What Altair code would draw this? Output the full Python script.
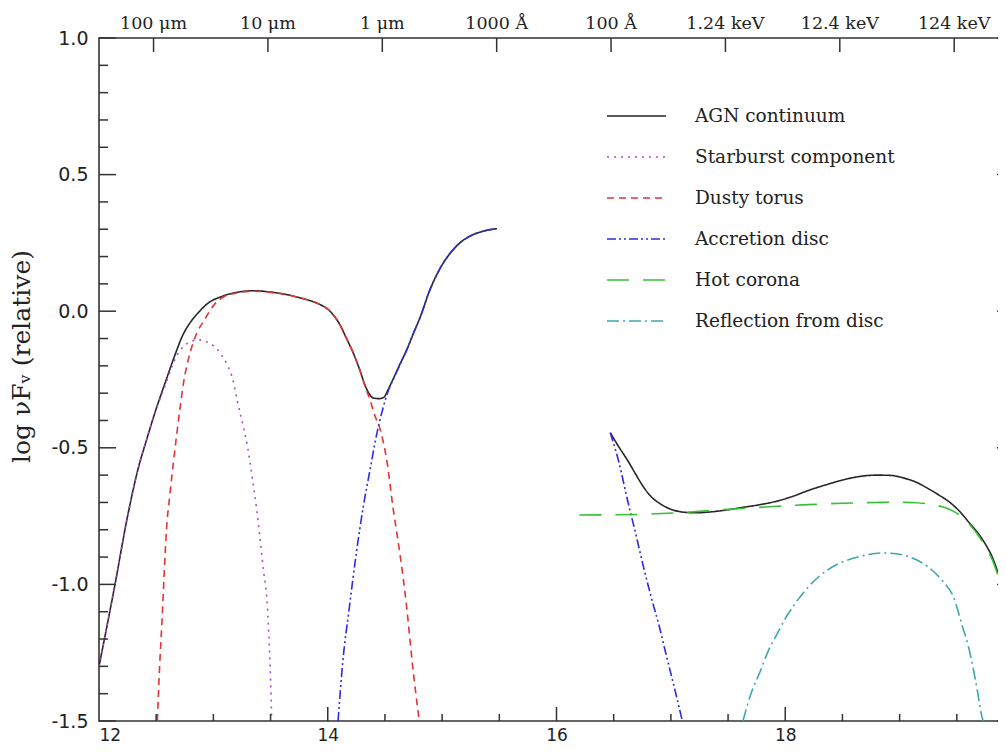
import altair as alt
import pandas as pd

# ---------------- series definitions ----------------
series_names = ["AGN continuum", "Starburst component", "Dusty torus",
                "Accretion disc", "Hot corona", "Reflection from disc"]
series_colors = ["#262626", "#b048c8", "#e23434", "#2c2ce4", "#34c034", "#3ea8a8"]
series_dashes = [[1, 0], [2, 5], [7, 5], [9, 3, 2, 3, 2, 3], [22, 14], [12, 4, 2, 4]]

# AGN continuum, IR-UV part
agn_ir_x = [12.00, 12.14, 12.25, 12.34, 12.42, 12.49, 12.58, 12.66, 12.73, 12.80, 12.88,
            12.94, 13.08, 13.22, 13.35, 13.50, 13.65, 13.73, 13.85, 13.93, 14.02, 14.10,
            14.17, 14.22, 14.28, 14.33, 14.37, 14.40, 14.45, 14.49, 14.53, 14.57, 14.63,
            14.69, 14.75, 14.81, 14.89, 14.98, 15.09, 15.17, 15.24, 15.32, 15.39, 15.48]
agn_ir_y = [-1.30, -1.00, -0.75, -0.58, -0.465, -0.37, -0.26, -0.165, -0.09, -0.04, 0.00,
            0.025, 0.055, 0.070, 0.075, 0.070, 0.060, 0.052, 0.038, 0.025, 0.000, -0.045,
            -0.105, -0.150, -0.215, -0.275, -0.307, -0.318, -0.320, -0.315, -0.285, -0.250, -0.195,
            -0.142, -0.080, -0.020, 0.075, 0.155, 0.222, 0.255, 0.274, 0.288, 0.296, 0.302]

# AGN continuum, X-ray part
agn_xr_x = [16.47, 16.55, 16.62, 16.69, 16.76, 16.83, 16.90, 17.00, 17.10, 17.22, 17.34,
            17.48, 17.63, 17.78, 17.93, 18.07, 18.21, 18.36, 18.50, 18.65, 18.80, 18.92,
            19.03, 19.14, 19.24, 19.34, 19.44, 19.53, 19.61, 19.69, 19.76, 19.81, 19.85,
            19.90, 19.95, 20.00]
agn_xr_y = [-0.445, -0.500, -0.545, -0.595, -0.643, -0.680, -0.703, -0.725, -0.735, -0.738, -0.735,
            -0.728, -0.718, -0.708, -0.695, -0.677, -0.655, -0.635, -0.618, -0.605, -0.600, -0.601,
            -0.610, -0.625, -0.647, -0.672, -0.700, -0.735, -0.775, -0.815, -0.860, -0.900, -0.945,
            -1.010, -1.090, -1.170]

# Starburst component
starburst_x = [12.00, 12.14, 12.25, 12.34, 12.42, 12.49, 12.58, 12.64, 12.69, 12.75, 12.81,
               12.87, 12.93, 13.01, 13.07, 13.13, 13.17, 13.21, 13.26, 13.30, 13.34, 13.38,
               13.43, 13.48, 13.50, 13.51]
starburst_y = [-1.30, -1.00, -0.75, -0.58, -0.465, -0.37, -0.27, -0.20, -0.155, -0.125, -0.11,
               -0.105, -0.11, -0.13, -0.16, -0.204, -0.25, -0.33, -0.42, -0.50, -0.61, -0.73,
               -0.92, -1.14, -1.35, -1.50]

# Dusty torus
torus_x = [12.51, 12.53, 12.55, 12.57, 12.59, 12.62, 12.65, 12.68, 12.71, 12.74, 12.78,
           12.82, 12.86, 12.91, 13.01, 13.08, 13.22, 13.35, 13.50, 13.65, 13.73, 13.85,
           13.93, 14.02, 14.10, 14.17, 14.22, 14.28, 14.33, 14.37, 14.41, 14.46, 14.52,
           14.57, 14.63, 14.69, 14.74, 14.80]
torus_y = [-1.50, -1.30, -1.14, -0.96, -0.80, -0.67, -0.556, -0.45, -0.35, -0.26, -0.178,
           -0.12, -0.075, -0.040, 0.025, 0.050, 0.068, 0.073, 0.069, 0.060, 0.052, 0.038,
           0.025, 0.000, -0.045, -0.105, -0.150, -0.215, -0.280, -0.325, -0.380, -0.435, -0.556,
           -0.717, -0.885, -1.083, -1.290, -1.500]

# Accretion disc, optical-UV part
disc_uv_x = [14.09, 14.13, 14.19, 14.25, 14.31, 14.37, 14.43, 14.48, 14.53, 14.57, 14.63,
             14.69, 14.75, 14.81, 14.89, 14.98, 15.09, 15.17, 15.24, 15.32, 15.39, 15.48]
disc_uv_y = [-1.50, -1.29, -1.08, -0.885, -0.717, -0.58, -0.446, -0.36, -0.29, -0.252, -0.197,
             -0.142, -0.080, -0.020, 0.075, 0.155, 0.222, 0.255, 0.274, 0.288, 0.296, 0.302]

# Accretion disc, soft X-ray part
disc_xr_x = [16.47, 16.55, 16.62, 16.69, 16.76, 16.83, 16.90, 16.96, 17.02, 17.10]
disc_xr_y = [-0.445, -0.56, -0.69, -0.81, -0.935, -1.05, -1.156, -1.26, -1.36, -1.50]

# Hot corona
corona_x = [16.20, 16.50, 16.80, 17.10, 17.40, 17.70, 17.93, 18.20, 18.50, 18.80, 18.94,
            19.10, 19.24, 19.38, 19.46, 19.53, 19.60, 19.67, 19.74, 19.81, 19.87, 19.93, 20.00]
corona_y = [-0.746, -0.745, -0.743, -0.737, -0.728, -0.720, -0.714, -0.708, -0.703, -0.700, -0.699,
            -0.700, -0.705, -0.717, -0.730, -0.748, -0.775, -0.810, -0.855, -0.910, -0.980, -1.060, -1.170]

# Reflection from disc
reflection_x = [17.63, 17.70, 17.78, 17.85, 17.93, 18.00, 18.07, 18.20, 18.36, 18.50, 18.65,
                18.85, 18.97, 19.09, 19.20, 19.29, 19.38, 19.47, 19.55, 19.60, 19.64, 19.68,
                19.72, 19.73]
reflection_y = [-1.50, -1.40, -1.32, -1.245, -1.18, -1.125, -1.08, -1.01, -0.95, -0.918, -0.898,
                -0.885, -0.888, -0.90, -0.922, -0.95, -0.99, -1.045, -1.155, -1.225, -1.30, -1.39,
                -1.485, -1.50]

# ---------------- axis tick definitions ----------------
y_major_ticks = [-1.5, -1.0, -0.5, 0.0, 0.5, 1.0]
y_minor_ticks = [-1.4, -1.3, -1.2, -1.1, -0.9, -0.8, -0.7, -0.6, -0.4, -0.3, -0.2, -0.1,
                 0.1, 0.2, 0.3, 0.4, 0.6, 0.7, 0.8, 0.9]
x_label_ticks = [12, 14, 16, 18]
x_major_ticks = [14, 16, 18]
x_minor_ticks = [12.5, 13, 13.5, 14.5, 15, 15.5, 16.5, 17, 17.5, 18.5, 19, 19.5]
top_tick_x = [12.477, 13.477, 14.477, 15.477, 16.477, 17.477, 18.477, 19.477]
top_tick_labels = ["100 \u03bcm", "10 \u03bcm", "1 \u03bcm", "1000 \u00c5", "100 \u00c5",
                   "1.24 keV", "12.4 keV", "124 keV"]

# ---------------- build tables ----------------
rows = []
def add(name, seg, xs_, ys_):
    for a, b in zip(xs_, ys_):
        rows.append({"series": name, "seg": seg, "x": a, "y": b})

add("AGN continuum", "agn1", agn_ir_x, agn_ir_y)
add("AGN continuum", "agn2", agn_xr_x, agn_xr_y)
add("Starburst component", "sb", starburst_x, starburst_y)
add("Dusty torus", "torus", torus_x, torus_y)
add("Accretion disc", "disc1", disc_uv_x, disc_uv_y)
add("Accretion disc", "disc2", disc_xr_x, disc_xr_y)
add("Hot corona", "corona", corona_x, corona_y)
add("Reflection from disc", "refl", reflection_x, reflection_y)
df = pd.DataFrame(rows)

W, H = 915, 683
XDOM = [12, 20]
YDOM = [-1.5, 1.0]
xs = alt.Scale(domain=XDOM, nice=False, zero=False)
ys = alt.Scale(domain=YDOM, nice=False, zero=False)
color_scale = alt.Scale(domain=series_names, range=series_colors)
dash_scale = alt.Scale(domain=series_names, range=series_dashes)

x_axis = alt.Axis(values=x_label_ticks, format="d", labelFont="DejaVu Sans", labelFontSize=17,
                  labelColor="#222", labelPadding=6, ticks=False, tickSize=0, domain=False,
                  grid=False, title=None, labelBaseline="top")
y_axis = alt.Axis(values=y_major_ticks,
                  labelExpr="(datum.value < 0 ? '-' : '') + format(abs(datum.value), '.1f')",
                  labelFont="DejaVu Sans", labelFontSize=19, labelColor="#222", labelPadding=11,
                  ticks=False, tickSize=0, domain=False, grid=False,
                  title="log \u03bdF\u1d65  (relative)", titleFont="DejaVu Serif", titleFontSize=25,
                  titleFontWeight="normal", titleColor="#222", titleAngle=270,
                  titleX=-78, titleY=318, titleAlign="center", titleBaseline="middle")

X = lambda f: alt.X(f, scale=xs, axis=x_axis)
Y = lambda f: alt.Y(f, scale=ys, axis=y_axis)

def line_layer(data):
    return alt.Chart(data).mark_line(strokeWidth=1.6, clip=True, interpolate="monotone").encode(
        x=X("x:Q"), y=Y("y:Q"),
        color=alt.Color("series:N", scale=color_scale, legend=None),
        strokeDash=alt.StrokeDash("series:N", scale=dash_scale, legend=None),
        detail="seg:N",
    )

black = line_layer(df[df.series == "AGN continuum"])
others = line_layer(df[df.series != "AGN continuum"])

tick_color = "#333"
def yticks(vals, length, right=False):
    d = pd.DataFrame({"y": vals})
    if right:
        xv, x2v = alt.value(W), alt.value(W - length)
    else:
        xv, x2v = alt.value(0), alt.value(length)
    return alt.Chart(d).mark_rule(color=tick_color, strokeWidth=1.5).encode(
        y=Y("y:Q"), x=xv, x2=x2v)

def xticks_bottom(vals, length):
    d = pd.DataFrame({"x": vals})
    return alt.Chart(d).mark_rule(color=tick_color, strokeWidth=1.5).encode(
        x=X("x:Q"), y=alt.value(H), y2=alt.value(H - length))

top_df = pd.DataFrame({"x": top_tick_x, "label": top_tick_labels})
top_ticks = alt.Chart(top_df).mark_rule(color=tick_color, strokeWidth=1.5).encode(
    x=X("x:Q"), y=alt.value(0), y2=alt.value(14))
top_text = alt.Chart(top_df).mark_text(font="DejaVu Serif", fontSize=17.5, color="#222",
                                       baseline="alphabetic", align="center").encode(
    x=X("x:Q"), y=alt.value(-9), text="label:N")

# ---------------- legend (one row per series) ----------------
legend_layers = []
for i, name in enumerate(series_names):
    d = pd.DataFrame({"series": [name]})
    ypix = 78 + 41 * i
    legend_layers.append(alt.Chart(d).mark_rule(strokeWidth=1.6).encode(
        x=alt.value(508), x2=alt.value(567), y=alt.value(ypix),
        color=alt.Color("series:N", scale=color_scale, legend=None),
        strokeDash=alt.StrokeDash("series:N", scale=dash_scale, legend=None)))
    legend_layers.append(alt.Chart(d).mark_text(font="DejaVu Serif", fontSize=18.5, color="#222",
                                                align="left", baseline="middle").encode(
        x=alt.value(596), y=alt.value(ypix), text="series:N"))

chart = alt.layer(
    black, others,
    yticks(y_minor_ticks, 9), yticks(y_major_ticks, 17),
    yticks(y_minor_ticks, 9, right=True), yticks(y_major_ticks, 17, right=True),
    xticks_bottom(x_minor_ticks, 7), xticks_bottom(x_major_ticks, 14),
    top_ticks, top_text,
    *legend_layers,
).properties(
    width=W, height=H,
    autosize=alt.AutoSizeParams(type="none"),
    padding={"left": 91, "top": 30, "right": -16, "bottom": 26},
    background="white",
).configure_view(stroke="#333", strokeWidth=1.6)

chart.save("out.html", embed_options={"renderer": "svg", "actions": False})
